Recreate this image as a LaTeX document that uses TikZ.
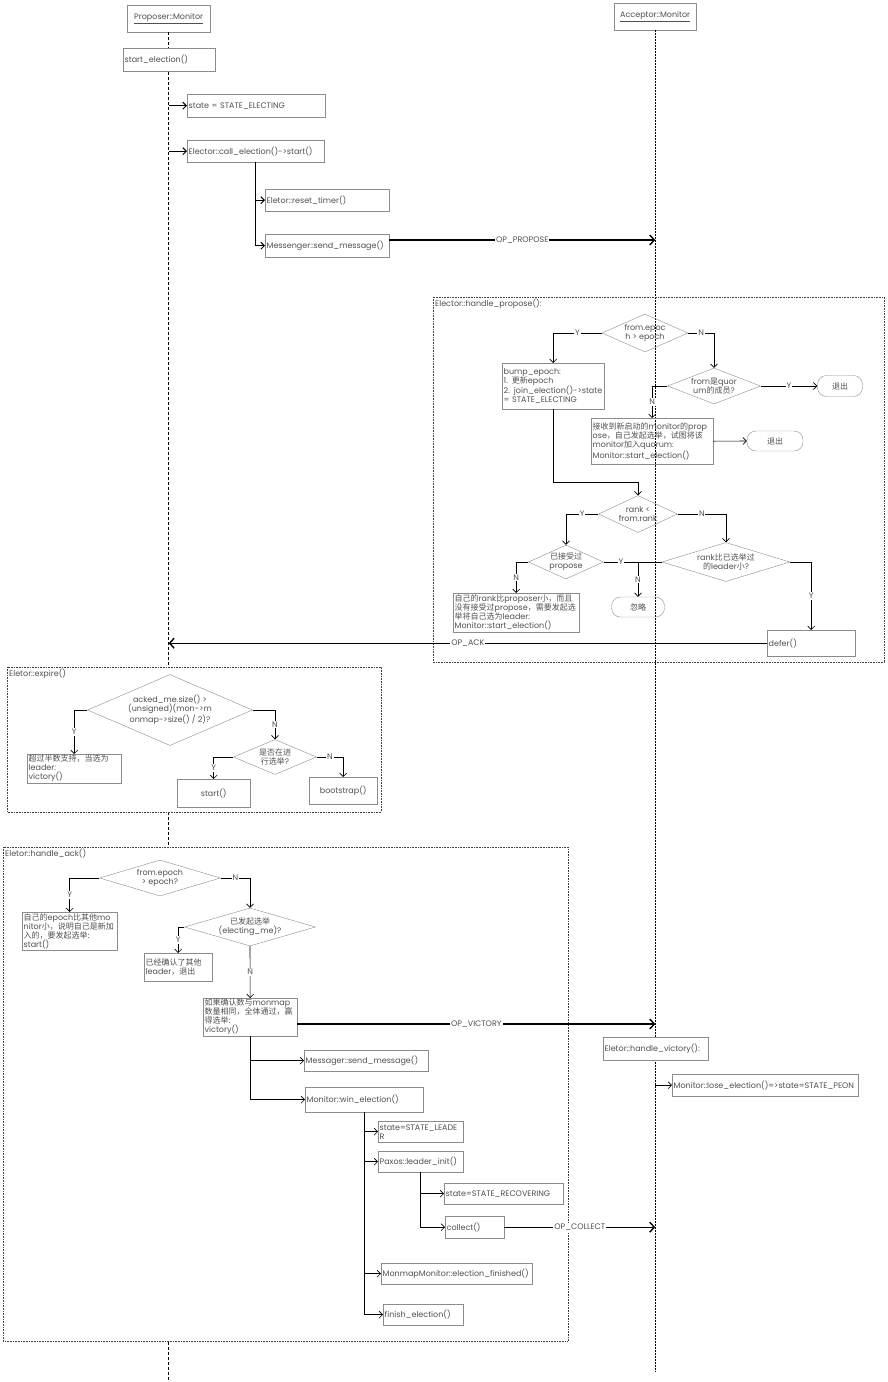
\documentclass[tikz,border=0pt]{standalone}
\usepackage{fontspec}
\setmainfont{Poppins}
\newfontfamily\cjk{Noto Sans CJK SC}
\newcommand\zh[1]{{\cjk #1}}
\usepackage{tikz}
\usetikzlibrary{arrows.meta,shapes.geometric}
\definecolor{BoxGray}{RGB}{140,140,140}
\definecolor{TextGray}{RGB}{80,80,80}
\tikzset{
	box/.style={draw=BoxGray,fill=white,text=TextGray,inner xsep=1.5pt,inner ysep=1pt,align=left,anchor=north west},
	obox/.style={box,fill=none},
	cbox/.style={box,align=center},
	cond/.style={diamond,draw=BoxGray,text=TextGray,inner sep=0pt,align=center},
	term/.style={draw=BoxGray,text=TextGray,rounded corners=9pt,align=center},
	ftitle/.style={text=TextGray,anchor=north west,inner sep=1pt},
	yn/.style={fill=white,text=TextGray,inner sep=0.8pt,font=\fontsize{8}{9}\selectfont},
	oplbl/.style={fill=white,text=TextGray,inner sep=1pt},
	plain/.style={draw=black,line width=0.6pt},
	flow/.style={plain,-{Straight Barb[length=3.5pt,width=7pt]}},
	call/.style={draw=black,line width=1pt,-{Straight Barb[length=3.5pt,width=7pt]}},
	msg/.style={draw=black,line width=1.4pt,-{Straight Barb[length=4.5pt,width=10pt]}},
	frame/.style={draw=black!75,densely dotted,line width=0.6pt},
}

\begin{document}
\begin{tikzpicture}[x=1pt,y=-1pt,font=\fontsize{8}{9}\selectfont]
	\useasboundingbox (0,0) rectangle (887,1382);
	% lifelines
	\node[cbox,text width=80pt,minimum height=27pt] (pHead) at (127,5) {\underline{Proposer::Monitor}};
	\node[cbox,text width=79pt,minimum height=27pt] (aHead) at (614,3) {\underline{Acceptor::Monitor}};
	\coordinate (pEnd) at (pHead.south |- 0,1382);
	\coordinate (aEnd) at (aHead.south |- 0,1372);
	\draw[line width=1pt,dash pattern=on 3pt off 2pt] (pHead.south) -- (pEnd);
	\draw[line width=0.6pt,dash pattern=on 2pt off 1pt] (aHead.south) -- (aEnd);
	% frames
	\draw[frame] (433,297) rectangle (884,662);
	\draw[frame,fill=white] (7,667) rectangle (381,812);
	\draw[frame,fill=white] (3,847) rectangle (568,1341);
	\node[ftitle] (fPropose) at (434,298) {Elector::handle\_propose():};
	\node[ftitle] (fExpire) at (8,668) {Eletor::expire()};
	\node[ftitle] (fAck) at (4,848) {Eletor::handle\_ack()};

	\node[box,text width=89pt,minimum height=23pt] (startEl) at (123,48) {start\_election()};
	\node[box,text width=135pt,minimum height=23pt] (stElect) at (187,94) {state = STATE\_ELECTING};
	\node[box,text width=134pt,minimum height=22pt] (callEl) at (187,140) {Elector::call\_election()->start()};
	\node[box,text width=121pt,minimum height=22pt] (resetT) at (265,189) {Eletor::reset\_timer()};
	\node[box,text width=121pt,minimum height=23pt] (sendMsg) at (265,234) {Messenger::send\_message()};
	\draw[call] (pHead.south |- stElect.west) -- (stElect.west);
	\draw[call] (pHead.south |- callEl.west) -- (callEl.west);
	\draw[call] (callEl.south) |- (resetT.west);
	\draw[call] (callEl.south) |- (sendMsg.west);
	\coordinate (aPropose) at (aHead.south |- 0,240);
	\draw[msg] (sendMsg.east |- aPropose) -- node[oplbl]{OP\_PROPOSE} (aPropose);

	% handle_propose
	\node[cond,aspect=2.26,minimum width=86pt,minimum height=38pt] (dEpoch) at (645,333) {from.epoc\\h > epoch};
	\node[cond,aspect=2.58,minimum width=93pt,minimum height=36pt] (dQuorum) at (714,386) {from\zh{是}quor\\um\zh{的成员}?};
	\node[term,minimum width=45pt,minimum height=21pt] (exitA) at (840,386) {\zh{退出}};
	\node[obox,text width=99pt,minimum height=46pt] (bump) at (502,363) {bump\_epoch:\\1. \zh{更新}epoch\\2. join\_election()->state\\= STATE\_ELECTING};
	\node[obox,text width=119pt,minimum height=46pt] (joinQ) at (591,418) {\zh{接收到新启动的}monitor\zh{的}prop\\ose\zh{，自己发起选举，试图将该}\\monitor\zh{加入}quorum:\\Monitor::start\_election()};
	\node[term,minimum width=56pt,minimum height=20pt] (exitB) at (775,441) {\zh{退出}};
	\node[cond,aspect=2.13,minimum width=79pt,minimum height=37pt] (dRank) at (638,514) {rank <\\from.rank};
	\node[cond,aspect=2.2,minimum width=75pt,minimum height=34pt] (dAcc) at (566,562) {\zh{已接受过}\\propose};
	\node[cond,aspect=3.3,minimum width=128pt,minimum height=39pt] (dLeader) at (726,562) {rank\zh{比已选举过}\\ \zh{的}leader\zh{小}?};
	\node[obox,text width=123pt,minimum height=39pt] (selfSt) at (453,593) {\zh{自己的}rank\zh{比}proposer\zh{小，而且}\\ \zh{没有接受过}propose\zh{，需要发起选}\\ \zh{举将自己选为}leader:\\Monitor::start\_election()};
	\node[term,minimum width=53pt,minimum height=20pt] (ignore) at (638,607) {\zh{忽略}};
	\node[obox,text width=85pt,minimum height=26pt] (defer) at (767,630) {defer()};
	\draw[flow] (dEpoch.west) -| node[yn,pos=0.25]{Y} (bump.north);
	\draw[flow] (dEpoch.east) -| node[yn,pos=0.25]{N} (dQuorum.north);
	\draw[flow] (dQuorum.east) -- node[yn]{Y} (exitA.west);
	\draw[flow] (dQuorum.west) -| node[yn,pos=0.75]{N} (joinQ.north);
	\draw[flow] (joinQ.east) -- (exitB.west);
	\draw[flow] (bump.south) |- ([yshift=13pt]dRank.north) -- (dRank.north);
	\draw[flow] (dRank.west) -| node[yn,pos=0.25]{Y} (dAcc.north);
	\draw[flow] (dRank.east) -| node[yn,pos=0.25]{N} (dLeader.north);
	\draw[flow] (dAcc.west) -| node[yn,pos=0.75]{N} (selfSt.north);
	\draw[plain] (dAcc.east) -- node[yn]{Y} (dAcc.east -| ignore.north);
	\draw[flow] (dLeader.west) -| node[yn,pos=0.75]{N} (ignore.north);
	\draw[flow] (dLeader.east) -| node[yn,pos=0.75]{Y} (defer.north);
	\coordinate (pAck) at (pHead.south |- defer.west);
	\draw[msg] (defer.west) -- node[oplbl]{OP\_ACK} (pAck);

	% expire
	\node[cond,aspect=2.32,minimum width=165pt,minimum height=71pt] (dAcked) at (170,710) {acked\_me.size() >\\(unsigned)(mon->m\\onmap->size() / 2)?};
	\node[box,text width=91pt,minimum height=26pt] (winB) at (27,754) {\zh{超过半数支持，当选为}\\leader:\\victory()};
	\node[cond,aspect=2.37,minimum width=83pt,minimum height=35pt] (dRun) at (275,757) {\zh{是否在进}\\ \zh{行选举}?};
	\node[cbox,text width=70pt,minimum height=28pt] (startB) at (177,779) {start()};
	\node[cbox,text width=65pt,minimum height=27pt] (bootB) at (309,777) {bootstrap()};
	\draw[flow] (dAcked.west) -| node[yn,pos=0.75]{Y} (winB.north);
	\draw[flow] (dAcked.east) -| node[yn,pos=0.75]{N} (dRun.north);
	\draw[flow] (dRun.west) -| node[yn,pos=0.75]{Y} (startB.north);
	\draw[flow] (dRun.east) -| node[yn,pos=0.25]{N} (bootB.north);

	% handle_ack
	\node[cond,aspect=3.36,minimum width=121pt,minimum height=36pt] (dFromEp) at (160,878) {from.epoch\\> epoch?};
	\node[box,text width=92pt,minimum height=38pt] (newB) at (22,912) {\zh{自己的}epoch\zh{比其他}mo\\nitor\zh{小，说明自己是新加}\\ \zh{入的，要发起选举:}\\start()};
	\node[cond,aspect=3.45,minimum width=131pt,minimum height=38pt] (dElect) at (250,927) {\zh{已发起选举}\\(electing\_me)?};
	\node[box,text width=65pt,minimum height=28pt] (otherB) at (144,953) {\zh{已经确认了其他}\\leader\zh{，退出}};
	\node[box,text width=91pt,minimum height=37pt] (victB) at (203,998) {\zh{如果确认数与}monmap\\ \zh{数量相同，全体通过，赢}\\ \zh{得选举:}\\victory()};
	\draw[flow] (dFromEp.west) -| node[yn,pos=0.75]{Y} (newB.north);
	\draw[flow] (dFromEp.east) -| node[yn,pos=0.25]{N} (dElect.north);
	\draw[flow] (dElect.west) -| node[yn,pos=0.75]{Y} (otherB.north);
	\draw[flow] (dElect.south) -- node[yn]{N} (victB.north);
	\coordinate (aVictory) at (aHead.south |- 0,1024);
	\draw[msg] (victB.east |- aVictory) -- node[oplbl]{OP\_VICTORY} (aVictory);
	\node[box,text width=121pt,minimum height=21pt] (sendMsgB) at (304,1050) {Messager::send\_message()};
	\node[box,text width=115pt,minimum height=25pt] (winEl) at (305,1087) {Monitor::win\_election()};
	\draw[flow] (victB.south) |- (sendMsgB.west);
	\draw[flow] (victB.south) |- (winEl.west);
	\node[box,text width=82pt,minimum height=21pt] (stLead) at (378,1121) {state=STATE\_LEADE\\R};
	\node[box,text width=82pt,minimum height=21pt] (paxos) at (378,1151) {Paxos::leader\_init()};
	\node[box,text width=116pt,minimum height=21pt] (stRec) at (444,1183) {state=STATE\_RECOVERING};
	\node[box,text width=56pt,minimum height=22pt] (collect) at (445,1216) {collect()};
	\node[box,text width=148pt,minimum height=21pt] (monFin) at (381,1263) {MonmapMonitor::election\_finished()};
	\node[box,text width=77pt,minimum height=21pt] (finEl) at (383,1304) {finish\_election()};
	\draw[flow] (winEl.south) |- (stLead.west);
	\draw[flow] (winEl.south) |- (paxos.west);
	\draw[flow] (paxos.south) |- (stRec.west);
	\draw[flow] (paxos.south) |- (collect.west);
	\draw[flow] (winEl.south) |- (monFin.west);
	\draw[flow] (winEl.south) |- (finEl.west);
	\coordinate (aCollect) at (aHead.south |- collect.east);
	\draw[msg] (collect.east) -- node[oplbl]{OP\_COLLECT} (aCollect);

	% acceptor side
	\node[box,text width=102pt,minimum height=23pt] (hVict) at (603,1037) {Eletor::handle\_victory():};
	\node[box,text width=183pt,minimum height=22pt] (lose) at (672,1074) {Monitor::lose\_election()=>state=STATE\_PEON};
	\draw[flow] (aHead.south |- lose.west) -- (lose.west);
\end{tikzpicture}
\end{document}
